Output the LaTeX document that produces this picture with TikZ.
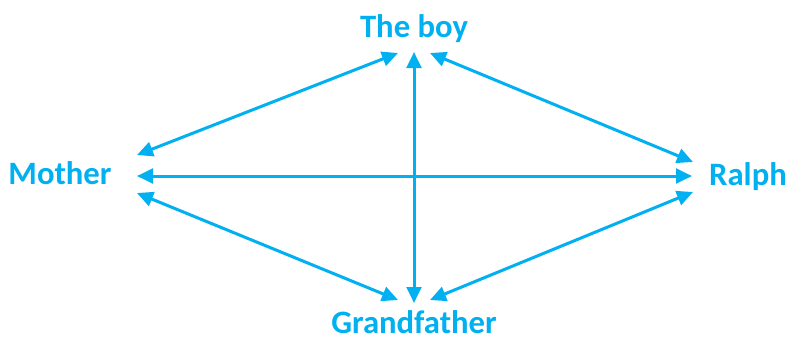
\documentclass[tikz,border=0pt]{standalone}
\usepackage{fontspec}
\setmainfont{Carlito}
\usetikzlibrary{arrows.meta}
\definecolor{skyblue}{HTML}{00B0F0}

\begin{document}
\begin{tikzpicture}[x=0.75pt, y=-0.75pt,
        person/.style={text=skyblue, font=\bfseries\fontsize{24.5}{28}\selectfont, anchor=base, inner sep=0pt},
        link/.style={draw=skyblue, line width=2.25pt, {Triangle[length=12pt,width=11pt]}-{Triangle[length=12pt,width=11pt]}}]
        \useasboundingbox (0,0) rectangle (789,340);
        \node[person] (boy) at (414,37) {The boy};
        \node[person] (mother) at (60,184) {Mother};
        \node[person] (ralph) at (748,185) {Ralph};
        \node[person] (grand) at (414,333) {Grandfather};
        % arrow ends
        \coordinate (boyL) at (398,53);
        \coordinate (boyM) at (414,52);
        \coordinate (boyR) at (430,53);
        \coordinate (motT) at (137,155);
        \coordinate (motM) at (137,176);
        \coordinate (motB) at (137,193);
        \coordinate (ralT) at (693,162);
        \coordinate (ralM) at (692,176);
        \coordinate (ralB) at (693,192);
        \coordinate (graL) at (398,300);
        \coordinate (graM) at (414,303);
        \coordinate (graR) at (430,300);
        \draw[link] (motT) -- (boyL);
        \draw[link] (boyR) -- (ralT);
        \draw[link] (motM) -- (ralM);
        \draw[link] (boyM) -- (graM);
        \draw[link] (motB) -- (graL);
        \draw[link] (ralB) -- (graR);
\end{tikzpicture}
\end{document}
